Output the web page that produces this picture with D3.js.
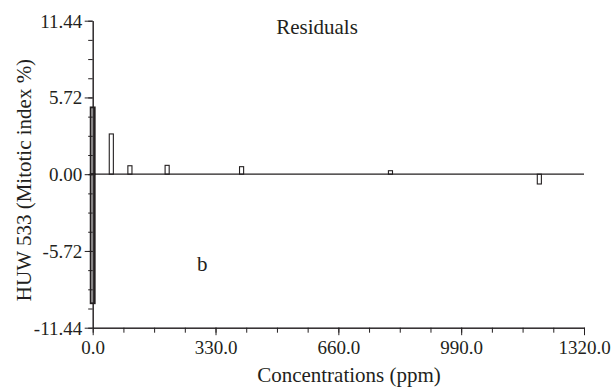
<!DOCTYPE html>
<html>
<head>
<meta charset="utf-8">
<script src="https://cdn.jsdelivr.net/npm/d3@7"></script>
</head>
<body style="margin:0">
<svg id="chart" width="612" height="392"></svg>
<script>
// residuals of the fit, one bar per replicate / concentration
const concentrations = [0, 0, 50, 100, 200, 400, 800, 1200];
const residuals = [4.98, -9.62, 3.0, 0.63, 0.66, 0.56, 0.26, -0.73];

const xTicks = [0, 330, 660, 990, 1320];
const yTicks = [-11.44, -5.72, 0, 5.72, 11.44];

const serif = 'Liberation Serif';

function residualChart(container) {
  const width = 612;
  const height = 392;
  const margin = {
    top: 20.7,
    right: 28,
    bottom: 64.3,
    left: 92.7
  };
  const innerW = width - margin.left - margin.right;
  const innerH = height - margin.top - margin.bottom;
  const ink = '#231f20';

  const x = d3.scaleLinear()
      .domain([0, 1320])
      .range([0, innerW]);

  const y = d3.scaleLinear()
      .domain([-11.44, 11.44])
      .range([innerH, 0]);

  // minor ticks: 4 steps between labelled ones
  const xMinor = d3.range(0, 1320.01, 82.5);
  const yMinor = d3.range(0, 17).map(i => -11.44 + i * 1.43);

  const svg = d3.select(container);

  const chart = svg.append('g')
      .attr('transform', `translate(${margin.left},${margin.top})`);

  // minor ticks first (no labels)
  chart.append('g')
      .attr('class', 'axis')
      .attr('transform', `translate(0,${innerH})`)
      .call(d3.axisBottom(x).tickValues(xMinor).tickSize(5).tickSizeOuter(0).tickFormat(''));

  chart.append('g')
      .attr('class', 'axis')
      .call(d3.axisLeft(y).tickValues(yMinor).tickSize(4.5).tickSizeOuter(0).tickFormat(''));

  chart.append('g')
      .attr('class', 'axis')
      .attr('transform', `translate(0,${innerH})`)
      .call(d3.axisBottom(x)
        .tickValues(xTicks)
        .tickSize(7.5)
        .tickSizeOuter(0)
        .tickPadding(5)
        .tickFormat(d => d.toFixed(1)));

  const yAxis = chart.append('g')
      .attr('class', 'axis')
      .call(d3.axisLeft(y)
        .tickValues(yTicks)
        .tickSize(8)
        .tickSizeOuter(0)
        .tickPadding(2.5)
        .tickFormat(d => d.toFixed(2)));

  chart.selectAll('.axis path, .axis line')
      .attr('stroke', ink);
  chart.selectAll('.axis text')
      .style('font-family', serif)
      .style('font-size', '19px')
      .attr('fill', ink);
  yAxis.selectAll('text').attr('dy', '0.34em');

  // zero line
  chart.append('line')
      .attr('x1', x(0))
      .attr('x2', x(1320))
      .attr('y1', y(0))
      .attr('y2', y(0))
      .attr('stroke', ink)
      .attr('stroke-width', 1.2);

  const barW = x(11) - x(0);

  chart.selectAll('.bar')
      .data(concentrations.map((c, i) => ({ c: c, r: residuals[i] })))
    .enter().append('rect')
      .attr('class', 'bar')
      .attr('x', d => x(d.c) - barW / 2)
      .attr('y', d => y(Math.max(0, d.r)))
      .attr('width', barW)
      .attr('height', d => Math.abs(y(d.r) - y(0)))
      .attr('fill', 'none')
      .attr('stroke', ink)
      .attr('stroke-width', 1.1);

  // heavier edge on the control bars, as in the source figure
  chart.selectAll('.bar')
      .filter(d => d.c === 0)
      .attr('stroke-width', 1.8);

  const label = (txt, size) => svg.append('text')
      .style('font-family', serif)
      .style('font-size', size + 'px')
      .attr('fill', ink)
      .text(txt);

  label('Residuals', 21)
      .attr('x', 317)
      .attr('y', 34)
      .attr('text-anchor', 'middle');

  label('b', 21)
      .attr('x', 197)
      .attr('y', 270.5);

  label('Concentrations (ppm)', 21)
      .attr('x', 349)
      .attr('y', 382)
      .attr('text-anchor', 'middle');

  label('HUW 533 (Mitotic index %)', 21)
      .attr('transform', 'translate(31,180) rotate(-90)')
      .attr('text-anchor', 'middle');
}

residualChart('#chart');
</script>
</body>
</html>
